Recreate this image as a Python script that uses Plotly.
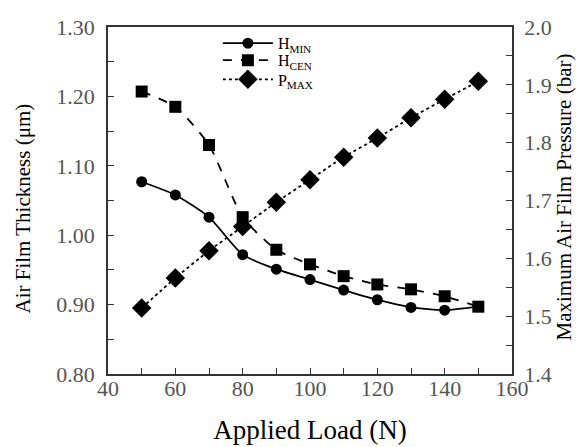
import plotly.graph_objects as go

load = [50, 60, 70, 80, 90, 100, 110, 120, 130, 140, 150]
h_min = [1.077, 1.058, 1.026, 0.972, 0.951, 0.936, 0.921, 0.907, 0.896, 0.892, 0.897]
h_cen = [1.207, 1.185, 1.130, 1.026, 0.979, 0.958, 0.941, 0.929, 0.922, 0.912, 0.897]
p_max = [1.514, 1.566, 1.613, 1.655, 1.697, 1.736, 1.775, 1.808, 1.843, 1.875, 1.906]

FONT = "Liberation Serif, Times New Roman, serif"
AX = "#333333"
TK = "#555555"

fig = go.Figure()
fig.add_trace(go.Scatter(x=load, y=h_min, name="H<sub>MIN</sub>", mode="lines+markers", legend="legend",
                         line=dict(color="black", width=1.8, dash="solid", shape="spline", smoothing=0.6),
                         marker=dict(symbol="circle", size=11, color="black")))
fig.add_trace(go.Scatter(x=load, y=h_cen, name="H<sub>CEN</sub>", mode="lines+markers", legend="legend2",
                         line=dict(color="black", width=1.8, dash="dash", shape="spline", smoothing=0.6),
                         marker=dict(symbol="square", size=12, color="black")))
fig.add_trace(go.Scatter(x=load, y=p_max, name="P<sub>MAX</sub>", mode="lines+markers", yaxis="y2", legend="legend3",
                         line=dict(color="black", width=1.8, dash="dot", shape="spline", smoothing=0.6),
                         marker=dict(symbol="diamond", size=15, color="black")))

def leg(yv):
    return dict(x=0.272, y=yv, xanchor="left", yanchor="middle", bgcolor="rgba(0,0,0,0)",
                font=dict(family=FONT, size=16, color="black"), itemwidth=50)

fig.update_layout(
    width=585, height=447,
    margin=dict(l=100, r=81, t=19, b=81, autoexpand=False),
    paper_bgcolor="white", plot_bgcolor="white",
    font=dict(family=FONT, color="black"),
    showlegend=True,
    legend=leg(0.953), legend2=leg(0.904), legend3=leg(0.849),
    xaxis=dict(range=[40, 160], tick0=40, dtick=20, ticks="inside", ticklen=6, tickcolor=AX,
               showline=True, linecolor=AX, linewidth=1.5, mirror=True, showgrid=False, zeroline=False,
               automargin=False, ticklabelstandoff=-6,
               tickfont=dict(family=FONT, size=22, color=TK),
               minor=dict(dtick=10, ticks="inside", ticklen=6, tickcolor=AX, showgrid=False),
               title=dict(text="Applied Load (N)", font=dict(family=FONT, size=27, color="black"), standoff=20)),
    yaxis=dict(range=[0.80, 1.30], tick0=0.8, dtick=0.1, tickformat=".2f", ticks="inside", ticklen=6,
               tickcolor=AX, showline=True, linecolor=AX, linewidth=1.5, showgrid=False, zeroline=False,
               automargin=False, ticklabelstandoff=7,
               tickfont=dict(family=FONT, size=22, color=TK),
               minor=dict(dtick=0.05, ticks="inside", ticklen=6, tickcolor=AX, showgrid=False)),
    yaxis2=dict(range=[1.4, 2.0], tick0=1.4, dtick=0.1, tickformat=".1f", ticks="inside", ticklen=6,
                tickcolor=AX, showline=True, linecolor=AX, linewidth=1.5, showgrid=False, zeroline=False,
                overlaying="y", side="right", automargin=False, ticklabelstandoff=6,
                tickfont=dict(family=FONT, size=22, color=TK),
                minor=dict(dtick=0.05, ticks="inside", ticklen=6, tickcolor=AX, showgrid=False)),
    annotations=[
        dict(text="Air Film Thickness (μm)", textangle=-90, xref="paper", yref="paper", x=0, y=0.5,
             xanchor="center", yanchor="middle", xshift=-86, yshift=-8, showarrow=False,
             font=dict(family=FONT, size=21, color="black")),
        dict(text="Maximum Air Film Pressure (bar)", textangle=-90, xref="paper", yref="paper", x=1, y=0.5,
             xanchor="center", yanchor="middle", xshift=51, yshift=3, showarrow=False,
             font=dict(family=FONT, size=21, color="black")),
    ],
)

fig.write_html("out.html")
